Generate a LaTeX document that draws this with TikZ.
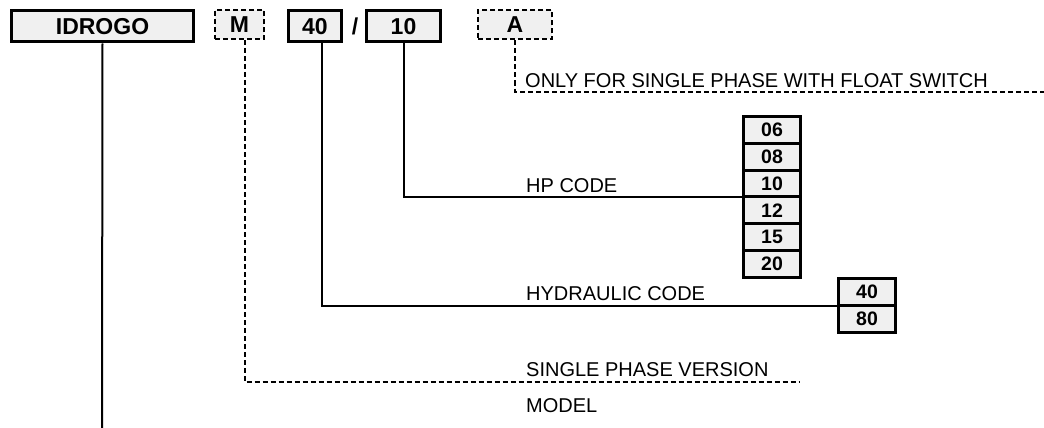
\documentclass[tikz,border=0pt]{standalone}
\usepackage{fontspec}
\setmainfont{Liberation Sans}
\usetikzlibrary{positioning}
\definecolor{boxgray}{RGB}{240,240,240}
\begin{document}
\begin{tikzpicture}[x=1pt,y=-1pt,
    partbox/.style={draw,line width=3pt,fill=boxgray,inner sep=0pt,
      font=\fontsize{23}{25}\selectfont\bfseries},
    optbox/.style={partbox,line width=2pt,dash pattern=on 5pt off 3pt},
    codebox/.style={draw,line width=3pt,fill=boxgray,inner sep=0pt,outer sep=0pt,
      minimum width=57pt,font=\fontsize{19.5}{21}\selectfont\bfseries},
    lbl/.style={anchor=base west,inner sep=0pt,font=\fontsize{20}{22}\selectfont},
    link/.style={line width=2pt},
    optlink/.style={line width=2pt,dash pattern=on 5pt off 3pt}]
  \useasboundingbox (0,0) rectangle (1044,428);
  % code parts
  \node[partbox,minimum width=182pt,minimum height=31pt] (idrogo) at (102.5,26.5) {IDROGO};
  \node[optbox,minimum width=49pt,minimum height=29pt] (m) at (239.5,24.5) {M};
  \node[partbox,minimum width=53pt,minimum height=31pt] (forty) at (315,26.5) {40};
  \node[font=\fontsize{23}{25}\selectfont\bfseries] (slash) at (355,26.5) {/};
  \node[partbox,minimum width=74pt,minimum height=31pt] (ten) at (403.5,26.5) {10};
  \node[optbox,minimum width=74pt,minimum height=29pt] (a) at (515,25) {A};
  % hp codes
  \node[codebox,minimum height=26.8pt] (hp06) at (772,129.9) {06};
  \node[codebox,minimum height=26.8pt,below=0pt of hp06] (hp08) {08};
  \node[codebox,minimum height=26.8pt,below=0pt of hp08] (hp10) {10};
  \node[codebox,minimum height=26.8pt,below=0pt of hp10] (hp12) {12};
  \node[codebox,minimum height=26.8pt,below=0pt of hp12] (hp15) {15};
  \node[codebox,minimum height=26.8pt,below=0pt of hp15] (hp20) {20};
  % hydraulic codes
  \node[codebox,minimum height=27pt] (hy40) at (867,292) {40};
  \node[codebox,minimum height=27pt,below=0pt of hy40] (hy80) {80};
  % labels
  \node[lbl] (onlylbl) at (525,87) {ONLY FOR SINGLE PHASE WITH FLOAT SWITCH};
  \node[lbl] (hplbl) at (526,192) {HP CODE};
  \node[lbl] (hylbl) at (526,300) {HYDRAULIC CODE};
  \node[lbl] (splbl) at (526,376) {SINGLE PHASE VERSION};
  \node[lbl] (modellbl) at (526,412) {MODEL};
  \coordinate (aend) at (1044,91.5);
  \coordinate (mend) at (800,382);
  \coordinate (modelend) at (102,428);
  \begin{scope}[-]
    \draw[optlink] (a.south) |- (aend);
    \draw[link] (ten.south) |- (hp10.south west);
    \draw[link] ([xshift=7pt]forty.south) |- (hy40.south west);
    \draw[optlink] ([xshift=5pt]m.south) |- (mend);
    \draw[link] (idrogo.south) -- (modelend);
  \end{scope}
\end{tikzpicture}
\end{document}
